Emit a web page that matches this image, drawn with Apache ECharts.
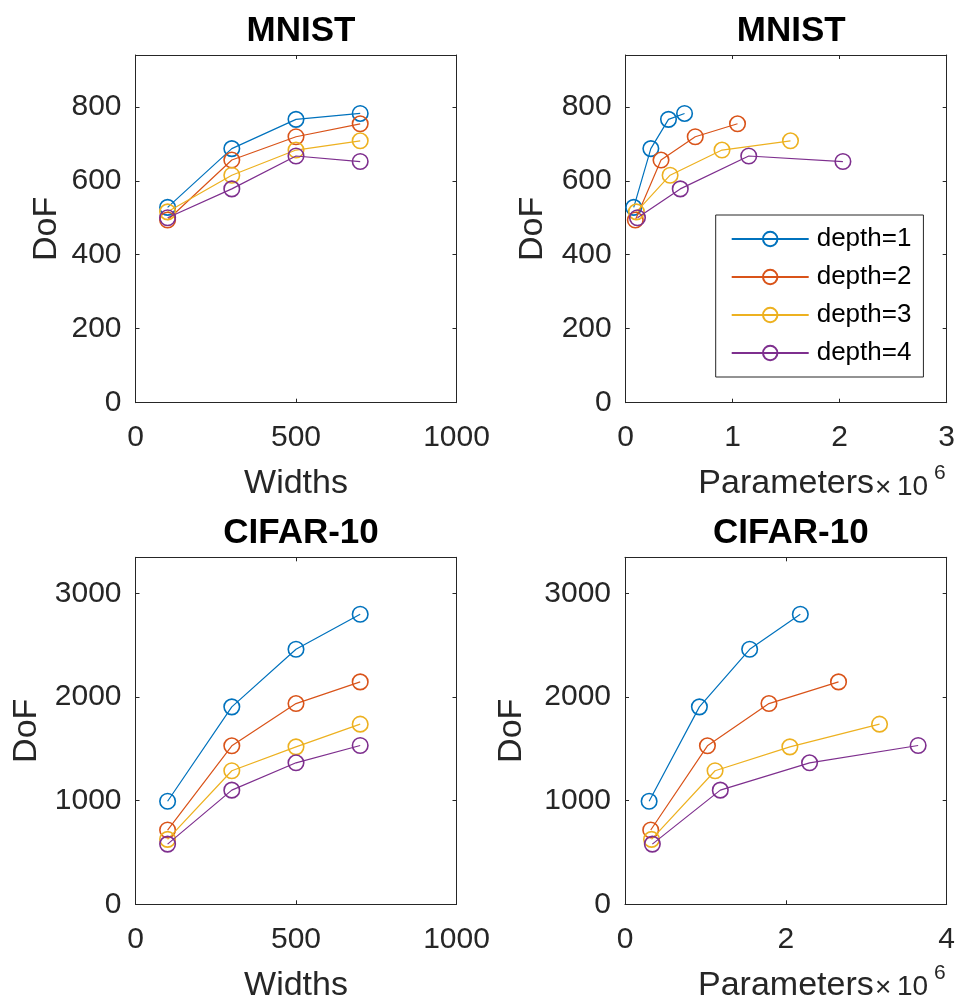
<!DOCTYPE html>
<html>
<head>
<meta charset="utf-8">
<script src="https://cdn.jsdelivr.net/npm/echarts@6/dist/echarts.min.js"></script>
<style>
html,body{margin:0;padding:0;background:#fff;}
#c{width:959px;height:1002px;}
</style>
</head>
<body>
<div id="c"></div>
<script>
// ---- data ----
const depthNames = ['depth=1', 'depth=2', 'depth=3', 'depth=4'];
const widths = [100, 300, 500, 700];

const mnistDoF1 = [528, 687, 766, 782];
const mnistDoF2 = [494, 656, 719, 754];
const mnistDoF3 = [516, 615, 683, 708];
const mnistDoF4 = [500, 578, 667, 652];

const mnistParams1 = [0.075, 0.235, 0.40, 0.55];   // x 10^6
const mnistParams2 = [0.09, 0.33, 0.65, 1.045];
const mnistParams3 = [0.10, 0.415, 0.90, 1.54];
const mnistParams4 = [0.11, 0.51, 1.15, 2.03];

const cifarDoF1 = [995, 1906, 2462, 2800];
const cifarDoF2 = [717, 1530, 1938, 2147];
const cifarDoF3 = [627, 1289, 1520, 1739];
const cifarDoF4 = [581, 1102, 1366, 1533];

const cifarParams1 = [0.30, 0.925, 1.55, 2.18];
const cifarParams2 = [0.32, 1.025, 1.79, 2.655];
const cifarParams3 = [0.33, 1.12, 2.05, 3.165];
const cifarParams4 = [0.34, 1.185, 2.295, 3.645];

const titles = ['MNIST', 'MNIST', 'CIFAR-10', 'CIFAR-10'];
const xNames = ['Widths', 'Parameters', 'Widths', 'Parameters'];
const yName = 'DoF';

// ---- styles ----
const colors = ['#0072BD', '#D95319', '#EDB120', '#7E2F8E'];
const FONT = '"Liberation Sans", Arial, sans-serif';
const AX = '#262626';

const mnistDoF = [mnistDoF1, mnistDoF2, mnistDoF3, mnistDoF4];
const mnistParams = [mnistParams1, mnistParams2, mnistParams3, mnistParams4];
const cifarDoF = [cifarDoF1, cifarDoF2, cifarDoF3, cifarDoF4];
const cifarParams = [cifarParams1, cifarParams2, cifarParams3, cifarParams4];

const panels = [
  {left: 135.5, top: 55, width: 321, height: 347.7, xMin: 0, xMax: 1000, xInt: 500, yMax: 940, yInt: 200, yGap: 72, xs: () => widths, ys: mnistDoF},
  {left: 625.7, top: 55, width: 321, height: 347.7, xMin: 0, xMax: 3, xInt: 1, yMax: 940, yInt: 200, yGap: 76, xs: d => mnistParams[d], ys: mnistDoF},
  {left: 135.5, top: 557.3, width: 321, height: 347, xMin: 0, xMax: 1000, xInt: 500, yMax: 3350, yInt: 1000, yGap: 92, xs: () => widths, ys: cifarDoF},
  {left: 625, top: 557.3, width: 321.7, height: 347, xMin: 0, xMax: 4, xInt: 2, yMax: 3350, yInt: 1000, yGap: 96, xs: d => cifarParams[d], ys: cifarDoF}
];

const grid = [], xAxis = [], yAxis = [], series = [], title = [];
panels.forEach((p, i) => {
  grid.push({left: p.left, top: p.top, width: p.width, height: p.height, show: false, containLabel: false, outerBoundsMode: 'none'});
  title.push({
    text: titles[i], left: p.left + p.width / 2, top: p.top - 46, textAlign: 'center',
    textStyle: {fontFamily: FONT, fontSize: 35, fontWeight: 'bold', color: '#000'}
  });
  const tick = {show: true, inside: true, length: 4, lineStyle: {color: AX, width: 1}};
  const line = {show: true, onZero: false, lineStyle: {color: AX, width: 1}};
  xAxis.push({
    type: 'value', gridIndex: i, position: 'bottom', min: p.xMin, max: p.xMax, interval: p.xInt,
    axisLine: line, axisTick: tick, splitLine: {show: false},
    axisLabel: {fontFamily: FONT, fontSize: 30, color: AX, margin: 20, formatter: v => String(v)},
    name: xNames[i], nameLocation: 'middle', nameGap: 64,
    nameTextStyle: {fontFamily: FONT, fontSize: 34, color: AX}
  });
  xAxis.push({
    type: 'value', gridIndex: i, position: 'top', min: p.xMin, max: p.xMax, interval: p.xInt,
    axisLine: line, axisTick: tick, splitLine: {show: false}, axisLabel: {show: false}
  });
  const yf = v => (v % p.yInt === 0 ? String(v) : '');
  yAxis.push({
    type: 'value', gridIndex: i, position: 'left', min: 0, max: p.yMax, interval: p.yInt,
    axisLine: line, axisTick: tick, splitLine: {show: false},
    axisLabel: {fontFamily: FONT, fontSize: 30, color: AX, margin: 14, formatter: yf, showMaxLabel: false, padding: [4, 0, 0, 0]},
    name: yName, nameLocation: 'middle', nameGap: p.yGap, nameRotate: 90,
    nameTextStyle: {fontFamily: FONT, fontSize: 34, color: AX}
  });
  yAxis.push({
    type: 'value', gridIndex: i, position: 'right', min: 0, max: p.yMax, interval: p.yInt,
    axisLine: line, axisTick: tick, splitLine: {show: false}, axisLabel: {show: false}
  });
  for (let d = 0; d < 4; d++) {
    const xs = p.xs(d);
    const ys = p.ys[d];
    series.push({
      type: 'line', name: depthNames[d], xAxisIndex: 2 * i, yAxisIndex: 2 * i,
      data: xs.map((x, k) => [x, ys[k]]),
      symbol: 'circle', symbolSize: 15.5, showSymbol: true,
      lineStyle: {color: colors[d], width: 1.2},
      itemStyle: {color: 'rgba(255,255,255,0)', borderColor: colors[d], borderWidth: 1.6},
      emphasis: {disabled: true}, silent: true, z: 2 + d
    });
  }
});

const expo = [];
[0, 500].forEach(dy => {
  expo.push({type: 'text', left: 875, top: 474 + dy, style: {text: '×', font: '28px ' + FONT, fill: AX}});
  expo.push({type: 'text', left: 897, top: 473 + dy, style: {text: '10', font: '28px ' + FONT, fill: AX}});
  expo.push({type: 'text', left: 934, top: 463 + dy, style: {text: '6', font: '21px ' + FONT, fill: AX}});
});

const option = {
  animation: false,
  backgroundColor: '#fff',
  title: title,
  grid: grid,
  xAxis: xAxis,
  yAxis: yAxis,
  series: series,
  legend: {
    data: depthNames, orient: 'vertical', left: 715.7, top: 215,
    itemWidth: 77, itemHeight: 18, itemGap: 12,
    padding: [11, 12, 11, 15],
    borderColor: AX, borderWidth: 1, backgroundColor: '#fff',
    textStyle: {fontFamily: FONT, fontSize: 26, color: '#000', padding: [0, 0, 0, 3]},
    selectedMode: false
  },
  graphic: expo
};

const chart = echarts.init(document.getElementById('c'), null, {renderer: 'canvas'});
chart.setOption(option);
</script>
</body>
</html>
